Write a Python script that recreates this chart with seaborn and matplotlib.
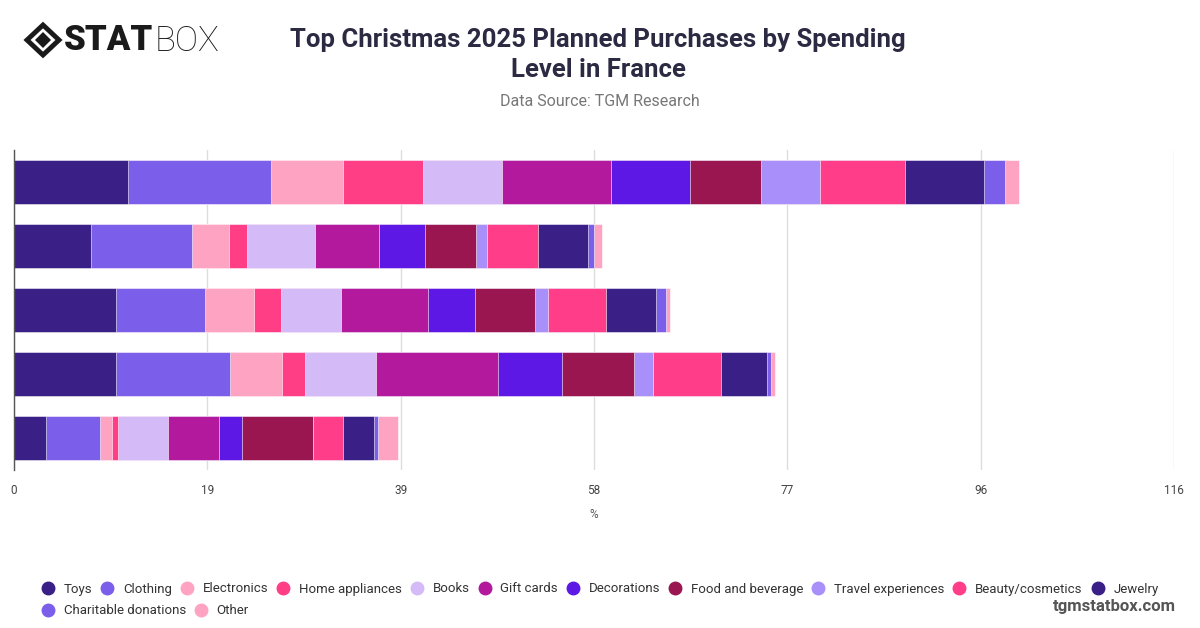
import numpy as np
import pandas as pd
import matplotlib
matplotlib.use("Agg")
import matplotlib.pyplot as plt
from matplotlib.patches import Polygon
from matplotlib.lines import Line2D
import seaborn as sns

# Data (percent of respondents, per spending level)
levels = ["Level 1", "Level 2", "Level 3", "Level 4", "Level 5"]
categories = ["Toys", "Clothing", "Electronics", "Home appliances", "Books",
              "Gift cards", "Decorations", "Food and beverage", "Travel experiences",
              "Beauty/cosmetics", "Jewelry", "Charitable donations", "Other"]
toys = [11.4, 7.7, 10.2, 10.2, 3.2]
clothing = [14.3, 10.1, 8.9, 11.4, 5.4]
electronics = [7.2, 3.7, 4.9, 5.2, 1.2]
home_appliances = [8.0, 1.8, 2.7, 2.3, 0.6]
books = [7.9, 6.8, 6.0, 7.1, 5.0]
gift_cards = [10.9, 6.4, 8.7, 12.2, 5.1]
decorations = [7.9, 4.6, 4.7, 6.4, 2.3]
food_beverage = [7.1, 5.1, 6.0, 7.2, 7.1]
travel = [5.9, 1.1, 1.3, 1.9, 0.0]
beauty = [8.5, 5.1, 5.8, 6.8, 3.0]
jewelry = [7.9, 5.0, 5.0, 4.6, 3.1]
charitable = [2.1, 0.6, 1.0, 0.4, 0.4]
other = [1.4, 0.8, 0.4, 0.4, 2.0]

tick_values = [0, 116 / 6, 116 / 3, 58, 116 * 2 / 3, 116 * 5 / 6, 116]
tick_labels = ["0", "19", "39", "58", "77", "96", "116"]

colors = ["#3a1f86", "#7b5fea", "#ffa3c3", "#ff3e86", "#d4bbf8", "#b3199d",
          "#5e18e5", "#9a1650", "#a88ff9", "#ff3d88", "#3a1f86", "#7b5fea", "#ffa3c3"]

series = [toys, clothing, electronics, home_appliances, books, gift_cards,
          decorations, food_beverage, travel, beauty, jewelry, charitable, other]
df = pd.DataFrame(dict(zip(categories, series)), index=levels)
cum = df.cumsum(axis=1)

sns.set_theme(style="white")
plt.rcParams["font.family"] = ["Roboto", "DejaVu Sans"]

W, H = 1200, 628
fig = plt.figure(figsize=(W / 100, H / 100), dpi=100)


def fx(x):
    return x / W


def fy(y):
    return 1 - y / H


ax = fig.add_axes([fx(14), fy(470), fx(1174) - fx(14), fy(150) - fy(470)])

# stacked bars: draw cumulative totals from the last layer to the first
for cat, col in zip(categories[::-1], colors[::-1]):
    sns.barplot(x=cum[cat].values, y=levels, orient="h", color=col,
                width=0.7, saturation=1, edgecolor="white", linewidth=0.4, ax=ax)

ax.set_xlim(0, 116)
ax.set_ylim(4.5, -0.5)
ax.set_xticks(tick_values)
ax.set_xticklabels(tick_labels, fontsize=8.5, color="#444444")
ax.set_yticks([])
ax.set_ylabel("")
ax.set_xlabel("%", fontsize=8.5, color="#555555", labelpad=8)
ax.tick_params(axis="x", length=0, pad=10)
ax.grid(axis="x", color="#dddddd", linewidth=1)
ax.set_axisbelow(True)
for s in ["top", "right", "bottom"]:
    ax.spines[s].set_visible(False)
ax.spines["left"].set_color("#555555")
ax.spines["left"].set_linewidth(1)

# title and subtitle
fig.text(fx(598), fy(40), "Top Christmas 2025 Planned Purchases by Spending",
         ha="center", va="center", fontsize=18.5, fontweight="bold", color="#2b2a42")
fig.text(fx(598), fy(70), "Level in France",
         ha="center", va="center", fontsize=18.5, fontweight="bold", color="#2b2a42")
fig.text(fx(600), fy(101), "Data Source: TGM Research",
         ha="center", va="center", fontsize=11.5, color="#777777")

# logo
cx, cy = 43, 40
outer = [(fx(cx), fy(cy - 15)), (fx(cx + 16), fy(cy)), (fx(cx), fy(cy + 15)), (fx(cx - 16), fy(cy))]
inner = [(fx(cx), fy(cy - 8)), (fx(cx + 8), fy(cy)), (fx(cx), fy(cy + 8)), (fx(cx - 8), fy(cy))]
fig.patches.append(Polygon(outer, closed=True, fill=False, edgecolor="#1a1a1a",
                           linewidth=3.5, transform=fig.transFigure, figure=fig))
fig.patches.append(Polygon(inner, closed=True, facecolor="#1a1a1a",
                           edgecolor="none", transform=fig.transFigure, figure=fig))
stat = fig.text(fx(64), fy(41), "STAT", ha="left", va="center", fontsize=25,
                fontweight="black", color="#1a1a1a")
renderer = fig.canvas.get_renderer()
stat_end = stat.get_window_extent(renderer).x1
fig.text(stat_end / W + fx(1), fy(41), "BOX", ha="left", va="center", fontsize=25,
         fontweight="light", color="#1a1a1a")

# legend, in two rows like the reference
handles = [Line2D([0], [0], marker="o", linestyle="", markersize=9,
                  markerfacecolor=c, markeredgecolor=c) for c in colors]
fig.legend(handles[:11], categories[:11], ncol=11, frameon=False,
           loc="center left", bbox_to_anchor=(fx(28), fy(589)),
           fontsize=9.5, handletextpad=0.6, columnspacing=0.53,
           handlelength=1.2, labelcolor="#333333")
fig.legend(handles[11:], categories[11:], ncol=2, frameon=False,
           loc="center left", bbox_to_anchor=(fx(28), fy(611)),
           fontsize=9.5, handletextpad=0.6, columnspacing=0.53,
           handlelength=1.2, labelcolor="#333333")

fig.text(fx(1176), fy(606), "tgmstatbox.com", ha="right", va="center",
         fontsize=12, fontweight="bold", color="#555555")

fig.savefig("out.png", dpi=100)
